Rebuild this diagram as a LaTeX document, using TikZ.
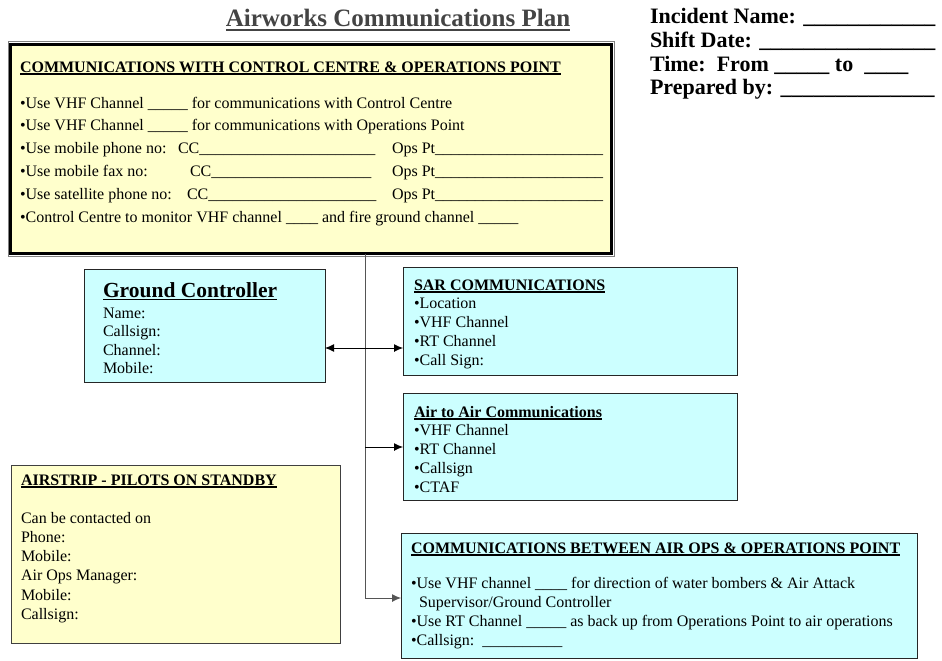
\documentclass[tikz,border=0pt]{standalone}
\usepackage{fontspec}
\setmainfont{Liberation Serif}
\usetikzlibrary{arrows.meta}
\definecolor{paleyellow}{HTML}{FFFFCC}
\definecolor{palecyan}{HTML}{CCFFFF}
\definecolor{spinegray}{HTML}{555555}
\definecolor{titlegray}{HTML}{444444}
% heading underline: a rule scaled to the current font size
\newcommand\hd[1]{\setbox0\hbox{#1}\rlap{\rule[-0.16em]{\wd0}{0.075em}}\box0}
\begin{document}
\begin{tikzpicture}[x=1pt,y=-1pt,
  txt/.style={inner sep=0pt, outer sep=0pt, anchor=base west, font=\fontsize{16}{19}\selectfont},
  bold/.style={txt, font=\fontsize{16}{19}\selectfont\bfseries},
  hdr/.style={txt, font=\fontsize{22}{26}\selectfont\bfseries},
  panel/.style={anchor=north west, inner sep=0pt, outer sep=0pt, line width=0.9pt},
  cyanpanel/.style={panel, draw=black!85, fill=palecyan},
  yellowpanel/.style={panel, draw=black!75, fill=paleyellow},
  link/.style={line width=0.9pt, draw=spinegray},
  tip/.style={-{Latex[length=9pt,width=8pt]}},
  twotip/.style={{Latex[length=9pt,width=8pt]}-{Latex[length=9pt,width=8pt]}}
]
\useasboundingbox (0,0) rectangle (942,661);

% ---------- title and form header ----------
\node[anchor=base, inner sep=0pt, font=\fontsize{25}{29}\selectfont\bfseries, text=titlegray] (title) at (398,27) {\hd{Airworks Communications Plan}};
\node[hdr] (incident) at (650,24) {Incident Name: \_\_\_\_\_\_\_\_\_\_\_\_};
\node[hdr] (shift) at (650,48) {Shift Date: \_\_\_\_\_\_\_\_\_\_\_\_\_\_\_\_};
\node[hdr] (time) at (650,71) {Time:\ \ From \_\_\_\_\_ to \ \_\_\_\_};
\node[hdr] (prep) at (650,95) {Prepared by: \_\_\_\_\_\_\_\_\_\_\_\_\_\_};

% ---------- control centre panel (double frame) ----------
\node[panel, draw=black, line width=3pt, fill=paleyellow, minimum width=601pt, minimum height=209pt] (plan) at (10.5,44.5) {};
\draw[gray, line width=1pt] ([shift={(-2.5,-2.5)}]plan.north west) rectangle ([shift={(2.5,2.5)}]plan.south east);
\node[bold] (planhd) at (20,72) {\hd{COMMUNICATIONS WITH CONTROL CENTRE \& OPERATIONS POINT}};
\node[txt] (p1) at (20,108) {•Use VHF Channel \_\_\_\_\_ for communications with Control Centre};
\node[txt] (p2) at (20,130.8) {•Use VHF Channel \_\_\_\_\_ for communications with Operations Point};
\node[txt] (p3) at (20,153.6) {\makebox[158pt][l]{•Use mobile phone no:}\makebox[214pt][l]{CC\_\_\_\_\_\_\_\_\_\_\_\_\_\_\_\_\_\_\_\_\_\_}Ops Pt\_\_\_\_\_\_\_\_\_\_\_\_\_\_\_\_\_\_\_\_\_};
\node[txt] (p4) at (20,176.4) {\makebox[170pt][l]{•Use mobile fax no:}\makebox[202pt][l]{CC\_\_\_\_\_\_\_\_\_\_\_\_\_\_\_\_\_\_\_\_}Ops Pt\_\_\_\_\_\_\_\_\_\_\_\_\_\_\_\_\_\_\_\_\_};
\node[txt] (p5) at (20,199.2) {\makebox[167pt][l]{•Use satellite phone no:}\makebox[205pt][l]{CC\_\_\_\_\_\_\_\_\_\_\_\_\_\_\_\_\_\_\_\_\_}Ops Pt\_\_\_\_\_\_\_\_\_\_\_\_\_\_\_\_\_\_\_\_\_};
\node[txt] (p6) at (20,222) {•Control Centre to monitor VHF channel \_\_\_\_ and fire ground channel \_\_\_\_\_};

% ---------- ground controller ----------
\node[cyanpanel, minimum width=241pt, minimum height=113pt] (gc) at (84,269) {};
\node[txt, font=\fontsize{21.5}{24}\selectfont\bfseries] (gchd) at (103,297) {\hd{Ground Controller}};
\node[txt] (gc1) at (103,318) {Name:};
\node[txt] (gc2) at (103,336.5) {Callsign:};
\node[txt] (gc3) at (103,355) {Channel:};
\node[txt] (gc4) at (103,373.5) {Mobile:};

% ---------- SAR ----------
\node[cyanpanel, minimum width=334pt, minimum height=108pt] (sar) at (403,267) {};
\node[bold] (sarhd) at (414,290) {\hd{SAR COMMUNICATIONS}};
\node[txt] (sar1) at (414,308) {•Location};
\node[txt] (sar2) at (414,327) {•VHF Channel};
\node[txt] (sar3) at (414,346) {•RT Channel};
\node[txt] (sar4) at (414,365) {•Call Sign:};

% ---------- air to air ----------
\node[cyanpanel, minimum width=334pt, minimum height=107pt] (air) at (403,393) {};
\node[bold] (airhd) at (414,417) {\hd{Air to Air Communications}};
\node[txt] (air1) at (414,435) {•VHF Channel};
\node[txt] (air2) at (414,454) {•RT Channel};
\node[txt] (air3) at (414,473) {•Callsign};
\node[txt] (air4) at (414,492) {•CTAF};

% ---------- airstrip ----------
\node[yellowpanel, minimum width=329pt, minimum height=178pt] (strip) at (11,465) {};
\node[bold] (striphd) at (21,485) {\hd{AIRSTRIP - PILOTS ON STANDBY}};
\node[txt] (st1) at (21,523) {Can be contacted on};
\node[txt] (st2) at (21,542.3) {Phone:};
\node[txt] (st3) at (21,561.6) {Mobile:};
\node[txt] (st4) at (21,580.9) {Air Ops Manager:};
\node[txt] (st5) at (21,600.2) {Mobile:};
\node[txt] (st6) at (21,619.5) {Callsign:};

% ---------- air ops / operations point ----------
\node[cyanpanel, minimum width=516pt, minimum height=125pt] (ops) at (401,533) {};
\node[bold] (opshd) at (411,553) {\hd{COMMUNICATIONS BETWEEN AIR OPS \& OPERATIONS POINT}};
\node[txt] (ops1) at (411,588) {•Use VHF channel \_\_\_\_ for direction of water bombers \& Air Attack};
\node[txt] (ops2) at (419,607) {Supervisor/Ground Controller};
\node[txt] (ops3) at (411,626) {•Use RT Channel \_\_\_\_\_ as back up from Operations Point to air operations};
\node[txt] (ops4) at (411,645) {•Callsign:\ \ \_\_\_\_\_\_\_\_\_\_};

% ---------- connectors ----------
\coordinate (kS) at (365,348);
\coordinate (kA) at (365,447);
\coordinate (kB) at (365,598);
\draw[link] (plan.south -| kB) -- (kB);
\draw[link, tip, draw=black] (kA) -- (air.west |- kA);
\draw[link, tip] (kB) -- (ops.west |- kB);
\draw[link, twotip, draw=black] (gc.east |- kS) -- (sar.west |- kS);
\end{tikzpicture}
\end{document}
